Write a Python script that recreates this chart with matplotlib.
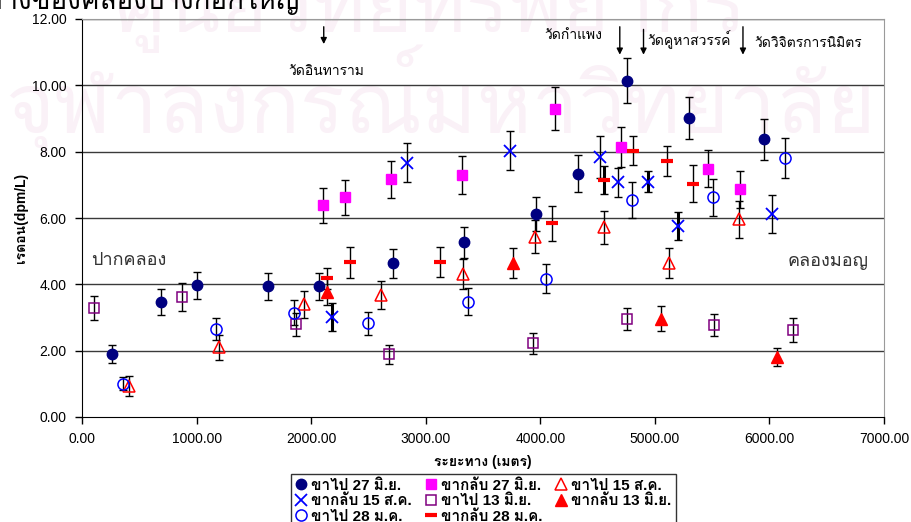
import matplotlib
matplotlib.use("Agg")
import matplotlib.pyplot as plt
from matplotlib import font_manager
from matplotlib.ft2font import FT2Font
from matplotlib.lines import Line2D

# ---- pick a font that covers Thai script ----
def find_thai_font():
    seen = set()
    for fe in font_manager.fontManager.ttflist:
        if fe.name in seen:
            continue
        seen.add(fe.name)
        try:
            cmap = FT2Font(fe.fname).get_charmap()
        except Exception:
            continue
        if 0x0E01 in cmap and 0x0E32 in cmap:
            return fe.name
    return None

thai = find_thai_font()
families = ["Liberation Sans"] + ([thai] if thai else []) + ["DejaVu Sans"]
plt.rcParams["font.family"] = families

# ---- data: distance (m), radon (dpm/L), error ----
x_out_27jun = [265, 688, 1005, 1623, 2069, 2716, 3333, 3960, 4327, 4758, 5294, 5950]
y_out_27jun = [1.90, 3.47, 3.97, 3.94, 3.94, 4.64, 5.27, 6.12, 7.34, 10.14, 9.01, 8.37]
e_out_27jun = [0.28, 0.38, 0.40, 0.40, 0.41, 0.44, 0.47, 0.50, 0.57, 0.68, 0.64, 0.62]

x_back_27jun = [2104, 2293, 2698, 3319, 4126, 4703, 5466, 5743]
y_back_27jun = [6.38, 6.62, 7.17, 7.29, 9.30, 8.15, 7.49, 6.86]
e_back_27jun = [0.52, 0.53, 0.56, 0.57, 0.65, 0.60, 0.57, 0.55]

x_out_15aug = [414, 1192, 1935, 2611, 3327, 3954, 4557, 5122, 5731]
y_out_15aug = [0.93, 2.10, 3.40, 3.68, 4.31, 5.44, 5.72, 4.65, 5.96]
e_out_15aug = [0.30, 0.38, 0.41, 0.42, 0.44, 0.49, 0.50, 0.46, 0.55]

x_back_15aug = [2182, 2838, 3735, 4522, 4674, 4938, 5201, 6023]
y_back_15aug = [3.01, 7.67, 8.03, 7.83, 7.08, 7.09, 5.76, 6.12]
e_back_15aug = [0.43, 0.59, 0.58, 0.63, 0.44, 0.32, 0.41, 0.58]

x_out_13jun = [105, 877, 1865, 2681, 3937, 4760, 5512, 6206]
y_out_13jun = [3.28, 3.61, 2.79, 1.89, 2.22, 2.96, 2.77, 2.62]
e_out_13jun = [0.36, 0.42, 0.35, 0.28, 0.31, 0.34, 0.33, 0.35]

x_back_13jun = [2139, 3764, 5055, 6066]
y_back_13jun = [3.78, 4.65, 2.96, 1.82]
e_back_13jun = [0.40, 0.45, 0.38, 0.27]

x_out_28jan = [358, 1171, 1847, 2497, 3368, 4053, 4804, 5510, 6136]
y_out_28jan = [1.01, 2.66, 3.15, 2.82, 3.48, 4.17, 6.55, 6.62, 7.81]
e_out_28jan = [0.21, 0.34, 0.37, 0.35, 0.40, 0.44, 0.55, 0.55, 0.60]

x_back_28jan = [2136, 2337, 3129, 4106, 4557, 4813, 5108, 5335]
y_back_28jan = [4.18, 4.66, 4.67, 5.84, 7.15, 8.03, 7.72, 7.04]
e_back_28jan = [0.32, 0.47, 0.46, 0.52, 0.43, 0.43, 0.44, 0.57]

series_labels = ["ขาไป 27 มิ.ย.", "ขากลับ 27 มิ.ย.", "ขาไป 15 ส.ค.", "ขากลับ 15 ส.ค.",
                 "ขาไป 13 มิ.ย.", "ขากลับ 13 มิ.ย.", "ขาไป 28 ม.ค.", "ขากลับ 28 ม.ค."]

x_ticks = [0, 1000, 2000, 3000, 4000, 5000, 6000, 7000]
y_ticks = [0, 2, 4, 6, 8, 10, 12]

# temples along the canal
temples = ["วัดอินทาราม", "วัดกำแพง", "วัดคูหาสวรรค์", "วัดวิจิตรการนิมิตร"]
temple_x = [2110, 4694, 4901, 5769]

# ---- figure ----
W, H = 912, 522
fig = plt.figure(figsize=(W / 100, H / 100), dpi=100)
fig.patch.set_facecolor("white")

# faint institutional watermark behind the plot
wm = "#faf1f7"
fig.text(430 / W, 1 - 0 / H, "ศูนย์วิทยทรัพยากร", fontsize=58, color=wm,
         ha="center", va="center", zorder=0, family=[thai or "DejaVu Sans"])
fig.text(440 / W, 1 - 100 / H, "จุฬาลงกรณ์มหาวิทยาลัย", fontsize=60, color=wm,
         ha="center", va="center", zorder=0, family=[thai or "DejaVu Sans"])

# heading, cropped by the top edge
fig.text(300 / W, 1 - 9 / H, "ความเข้มข้นของเรดอนตามระยะทางของคลองบางกอกใหญ่",
         fontsize=20, color="black", ha="right", va="baseline")

ax = fig.add_axes([82 / W, 1 - 417 / H, (884 - 82) / W, (417 - 19) / H])
ax.patch.set_alpha(0)
ax.set_zorder(2)

ax.set_xlim(0, 7000)
ax.set_ylim(0, 12)
ax.set_xticks(x_ticks)
ax.set_xticklabels([f"{v:.2f}" for v in x_ticks], fontsize=10)
ax.set_yticks(y_ticks)
ax.set_yticklabels([f"{v:.2f}" for v in y_ticks], fontsize=10)
ax.tick_params(direction="out", length=5, width=1, color="black", pad=6)

for yv in y_ticks[1:]:
    ax.axhline(yv, color="#3a3a3a", lw=1, zorder=1)

for s in ("left", "bottom"):
    ax.spines[s].set_color("black")
for s in ("right", "top"):
    ax.spines[s].set_color("#9a9a9a")


def plot_series(x, y, e, bold=None, **mk):
    eb = ax.errorbar(x, y, yerr=e, fmt="none", ecolor="black", elinewidth=1,
                     capsize=3.2, capthick=1, zorder=3)
    if bold is not None:
        eb.lines[2][0].set_linewidths([2.2 if b else 1.0 for b in bold])
    line, = ax.plot(x, y, ls="none", zorder=4, **mk)
    return line


h = []
h.append(plot_series(x_out_27jun, y_out_27jun, e_out_27jun, marker="o", ms=7.5,
                     mfc="#000080", mec="#000080"))
h.append(plot_series(x_back_27jun, y_back_27jun, e_back_27jun, marker="s", ms=7.5,
                     mfc="#ff00ff", mec="#ff00ff"))
h.append(plot_series(x_out_15aug, y_out_15aug, e_out_15aug, marker="^", ms=8,
                     mfc="none", mec="#ff0000", mew=1.1))
h.append(plot_series(x_back_15aug, y_back_15aug, e_back_15aug,
                     bold=[True, False, False, False, False, True, True, False],
                     marker="x", ms=8.5, mec="#0000ff", mew=1.3))
h.append(plot_series(x_out_13jun, y_out_13jun, e_out_13jun, marker="s", ms=7.5,
                     mfc="none", mec="#800080", mew=1.1))
h.append(plot_series(x_back_13jun, y_back_13jun, e_back_13jun, marker="^", ms=8,
                     mfc="#ff0000", mec="#ff0000"))
h.append(plot_series(x_out_28jan, y_out_28jan, e_out_28jan, marker="o", ms=8,
                     mfc="none", mec="#0000ff", mew=1.1))
h.append(plot_series(x_back_28jan, y_back_28jan, e_back_28jan,
                     bold=[False, False, False, False, True, False, False, False],
                     marker="_", ms=9, mec="#ff0000", mew=3))

# temple markers
arrow_kw = dict(arrowstyle="-|>", color="black", lw=1, mutation_scale=9)
ax.annotate("", xy=(temple_x[0], 11.16), xytext=(temple_x[0], 11.85), arrowprops=arrow_kw)
ax.annotate("", xy=(temple_x[1], 10.84), xytext=(temple_x[1], 11.85), arrowprops=arrow_kw)
ax.annotate("", xy=(temple_x[2], 10.84), xytext=(temple_x[2], 11.77), arrowprops=arrow_kw)
ax.annotate("", xy=(temple_x[3], 10.84), xytext=(temple_x[3], 11.85), arrowprops=arrow_kw)
ax.text(2137, 10.44, temples[0], ha="center", va="center", fontsize=10)
ax.text(4289, 11.52, temples[1], ha="center", va="center", fontsize=10)
ax.text(4935, 11.39, temples[2], ha="left", va="center", fontsize=10)
ax.text(5868, 11.27, temples[3], ha="left", va="center", fontsize=10)

ax.text(76, 4.71, "ปากคลอง", ha="left", va="center", fontsize=13, color="#333333")
ax.text(6870, 4.68, "คลองมอญ", ha="right", va="center", fontsize=13, color="#333333")

ax.set_xlabel("ระยะทาง (เมตร)", fontsize=10, fontweight="bold")
ax.set_ylabel("เรดอน(dpm/L)", fontsize=10, fontweight="bold")
ax.xaxis.set_label_coords(0.5, -(455 - 417) / (417 - 19))
ax.yaxis.set_label_coords(-(82 - 28) / (884 - 82), 0.5)

# legend, filled row by row
handles = [Line2D([], [], ls="none", marker=l.get_marker(), ms=l.get_markersize(),
                  mfc=l.get_markerfacecolor(), mec=l.get_markeredgecolor(),
                  mew=l.get_markeredgewidth()) for l in h]
order = [0, 3, 6, 1, 4, 7, 2, 5]
leg = fig.legend([handles[i] for i in order], [series_labels[i] for i in order],
                 ncol=3, loc="upper left", bbox_to_anchor=(291 / W, 1 - 474 / H),
                 borderaxespad=0, frameon=True, fancybox=False, edgecolor="black",
                 borderpad=0.3, handlelength=0.7, handletextpad=0.3, columnspacing=0.9,
                 labelspacing=0.1, prop=dict(size=11, weight="bold"))
leg.get_frame().set_linewidth(1)

fig.savefig("out.png", dpi=100, facecolor="white")
